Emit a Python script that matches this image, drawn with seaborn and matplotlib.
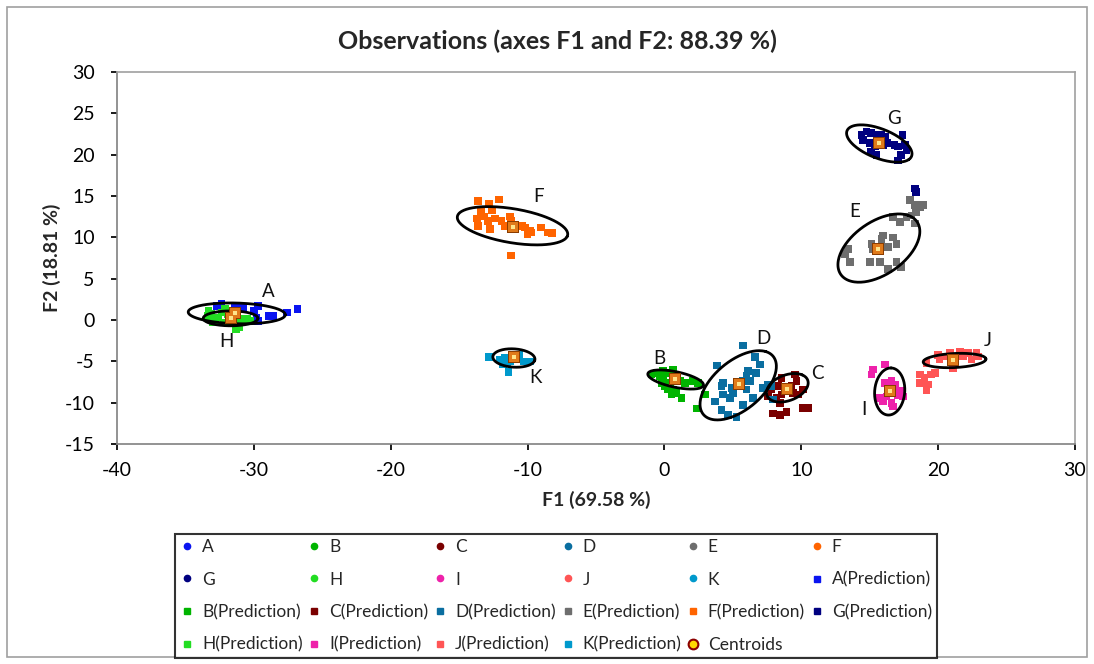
import numpy as np
import pandas as pd
import matplotlib
matplotlib.use("Agg")
import matplotlib.pyplot as plt
from matplotlib.lines import Line2D
from matplotlib.patches import Rectangle
import seaborn as sns

# ---------------- data ----------------
groups = ["A", "B", "C", "D", "E", "F", "G", "H", "I", "J", "K"]
colors = ["#0a14f0", "#00b400", "#7a0000", "#0a6ea0", "#6e6e6e", "#ff6400",
          "#000080", "#22dd22", "#ee22aa", "#ff5555", "#0099cc"]

A_x = [-32.7, -32.35, -31.4, -30.0, -29.7, -29.8, -29.7, -28.9, -28.6, -27.6, -26.8, -30.5, -30.8]
A_y = [1.7, 1.9, 1.5, 1.1, 1.7, 0.3, -0.1, 0.5, 0.5, 0.9, 1.3, 0.1, 1.5]
B_x = [-0.94, -0.58, -0.1, 0.64, -0.34, -0.1, 0.15, -0.2, 0.03, 0.4, 0.27, 0.52, 0.64, 0.88, 1.25, 1.12, 1.49, 2.1, 2.46, 2.95, 2.39]
B_y = [-6.6, -6.4, -6.2, -6.0, -6.8, -7.2, -6.4, -7.6, -8.0, -7.6, -8.4, -9.0, -8.4, -8.8, -9.4, -7.4, -7.6, -7.4, -7.6, -9.0, -10.7]
C_x = [8.55, 9.53, 9.65, 9.28, 8.92, 8.3, 7.82, 7.57, 8.19, 8.55, 9.77, 10.13, 8.43, 7.94, 8.43, 8.92, 10.13, 10.5, 9.4]
C_y = [-7.0, -6.6, -7.4, -8.0, -8.4, -8.0, -8.4, -9.25, -9.45, -9.0, -9.0, -8.4, -10.05, -11.3, -11.5, -11.1, -10.65, -10.65, -8.8]
D_x = [5.75, 6.6, 6.97, 3.85, 6.1, 6.7, 6.0, 5.75, 6.24, 4.29, 4.17, 4.9, 5.0, 6.0, 4.29, 4.78, 3.68, 5.75, 6.48, 7.2, 7.57, 4.17, 4.65, 5.27, 7.94, 7.82]
D_y = [-3.1, -4.45, -5.4, -5.5, -6.2, -6.4, -6.7, -7.4, -7.4, -7.6, -8.0, -8.2, -8.8, -8.4, -9.0, -9.4, -9.85, -10.25, -9.4, -8.2, -7.8, -10.9, -11.5, -11.7, -9.6, -8.0]
E_x = [17.93, 18.3, 18.66, 18.9, 18.4, 18.05, 17.7, 17.2, 16.7, 18.3, 15.98, 16.7, 16.95, 15.86, 15.13, 15.25, 16.34, 13.42, 13.18, 13.54, 15.0, 15.73, 16.34, 16.95, 17.3]
E_y = [14.5, 13.9, 13.7, 13.9, 13.1, 12.65, 12.45, 11.85, 12.45, 11.65, 10.2, 10.0, 9.2, 9.8, 9.2, 8.6, 8.8, 8.6, 8.0, 7.0, 7.0, 7.0, 6.2, 7.0, 6.4]
F_x = [-13.6, -12.8, -12.1, -13.4, -12.6, -13.7, -13.2, -12.9, -12.4, -12.75, -13.6, -11.9, -11.7, -11.3, -11.2, -10.4, -10.2, -9.8, -9.7, -9.0, -8.5, -8.2, -10.0, -11.2]
F_y = [14.4, 14.1, 14.6, 13.1, 13.3, 12.3, 12.5, 12.0, 12.3, 11.0, 11.4, 12.0, 11.4, 12.5, 12.0, 11.4, 11.2, 10.8, 10.6, 11.2, 10.6, 10.5, 10.4, 7.8]
G_x = [14.4, 14.76, 15.1, 15.5, 15.86, 16.1, 15.7, 15.98, 15.37, 15.0, 15.1, 15.5, 16.3, 16.8, 17.07, 17.4, 17.56, 17.7, 17.3, 17.07, 14.5, 18.3, 18.4]
G_y = [22.4, 22.8, 22.6, 22.4, 22.4, 22.2, 21.6, 21.2, 21.0, 21.4, 20.4, 19.95, 21.4, 21.2, 21.0, 22.4, 21.2, 20.6, 19.95, 19.3, 21.8, 15.9, 15.5]
H_x = [-33.3, -33.1, -33.2, -32.8, -32.6, -32.35, -32.1, -31.9, -31.1, -30.9, -31.1, -30.5, -30.3, -33.4, -33.0, -31.6, -32.2, -31.3]
H_y = [1.1, 0.7, 0.1, -0.1, 0.3, 0.9, 1.3, 0.7, 0.1, -0.3, -0.9, 0.1, -0.1, 0.5, -0.3, -0.3, -0.3, -1.1]
I_x = [15.25, 15.13, 16.1, 16.1, 16.6, 16.83, 16.34, 17.2, 17.44, 15.73, 15.98, 16.6, 16.7, 17.07, 16.22]
I_y = [-6.0, -6.6, -5.4, -7.6, -7.4, -7.8, -8.4, -8.6, -9.25, -9.45, -9.85, -10.05, -10.45, -9.05, -9.25]
J_x = [19.15, 20.0, 20.1, 20.5, 20.85, 21.58, 21.8, 22.2, 22.43, 22.8, 22.9, 21.1, 18.66, 19.0, 19.5, 19.75, 18.66, 19.27, 19.15]
J_y = [-5.2, -4.2, -4.8, -4.4, -4.0, -3.8, -4.4, -4.0, -4.8, -4.0, -4.4, -5.8, -6.6, -7.0, -6.6, -6.4, -7.6, -7.8, -8.5]
K_x = [-12.8, -12.0, -11.7, -11.5, -11.4, -9.8, -11.8, -10.6, -10.3, -11.3]
K_y = [-4.5, -4.8, -4.6, -5.2, -6.3, -5.0, -5.4, -4.2, -5.0, -5.0]

# centroids
cent_x = [-31.4, 0.76, 8.92, 5.46, 15.6, -11.05, 15.7, -31.7, 16.46, 21.1, -11.0]
cent_y = [0.8, -7.1, -8.35, -7.8, 8.6, 11.3, 21.4, 0.2, -8.6, -4.85, -4.5]

# confidence ellipses (center, semi-axes, angle in degrees)
ell_cx = [-31.25, 0.82, 8.98, 5.39, 15.67, -11.1, 15.7, -31.7, 16.46, 21.2, -11.0]
ell_cy = [0.8, -7.2, -8.2, -7.9, 8.7, 11.4, 21.35, 0.2, -8.65, -4.9, -4.6]
ell_a = [3.55, 2.16, 1.9, 4.55, 4.5, 4.2, 2.9, 2.0, 2.85, 2.3, 1.55]
ell_b = [1.25, 0.9, 1.3, 2.15, 2.4, 2.0, 1.55, 0.9, 1.1, 0.85, 1.1]
ell_ang = [-3, -21.7, 55, 63.7, 62, -18.4, -42, 0, 88, 5, -10]

# label positions
lab_x = [-28.95, -0.4, 11.2, 7.2, 13.9, -9.2, 16.75, -32.0, 14.6, 23.6, -9.4]
lab_y = [3.5, -4.65, -6.5, -2.2, 13.1, 15.0, 24.4, -2.6, -10.85, -2.45, -7.0]

xticks = [-40, -30, -20, -10, 0, 10, 20, 30]
yticks = [-15, -10, -5, 0, 5, 10, 15, 20, 25, 30]

title = "Observations (axes F1 and F2: 88.39 %)"
xlabel = "F1 (69.58 %)"
ylabel = "F2 (18.81 %)"

# ---------------- build table ----------------
xs = {"A": A_x, "B": B_x, "C": C_x, "D": D_x, "E": E_x, "F": F_x, "G": G_x,
      "H": H_x, "I": I_x, "J": J_x, "K": K_x}
ys = {"A": A_y, "B": B_y, "C": C_y, "D": D_y, "E": E_y, "F": F_y, "G": G_y,
      "H": H_y, "I": I_y, "J": J_y, "K": K_y}
rows = []
for g in groups:
    for x, y in zip(xs[g], ys[g]):
        rows.append((g, x, y))
df = pd.DataFrame(rows, columns=["group", "F1", "F2"])
cent = pd.DataFrame({"group": groups, "F1": cent_x, "F2": cent_y})
pal = dict(zip(groups, colors))

# ---------------- plot ----------------
sns.set_theme(style="white")
plt.rcParams["font.family"] = ["Lato", "DejaVu Sans"]
plt.rcParams["axes.unicode_minus"] = False

fig = plt.figure(figsize=(10.94, 6.64), dpi=100)
ax = fig.add_axes([117 / 1094, 1 - 444 / 664, (1075 - 117) / 1094, (444 - 72) / 664])

sns.scatterplot(data=df, x="F1", y="F2", hue="group", palette=pal, marker="s",
                s=30, linewidth=0, legend=False, ax=ax, zorder=3)

t = np.linspace(0, 2 * np.pi, 200)
for cx, cy, a, b, ang in zip(ell_cx, ell_cy, ell_a, ell_b, ell_ang):
    th = np.deg2rad(ang)
    ex = cx + a * np.cos(t) * np.cos(th) - b * np.sin(t) * np.sin(th)
    ey = cy + a * np.cos(t) * np.sin(th) + b * np.sin(t) * np.cos(th)
    ax.plot(ex, ey, color="black", lw=2, zorder=4)

sns.scatterplot(data=cent, x="F1", y="F2", marker="s", s=80, color="#8a3c00",
                linewidth=0, legend=False, ax=ax, zorder=5)
sns.scatterplot(data=cent, x="F1", y="F2", marker="s", s=45, color="#e07a1a",
                linewidth=0, legend=False, ax=ax, zorder=6)
sns.scatterplot(data=cent, x="F1", y="F2", marker="s", s=10, color="#ffe58a",
                linewidth=0, legend=False, ax=ax, zorder=7)

for g, lx, ly in zip(groups, lab_x, lab_y):
    ax.text(lx, ly, g, fontsize=13.5, ha="center", va="center", color="#111111", zorder=8)

ax.set_xlim(-40, 30)
ax.set_ylim(-15, 30)
ax.set_xticks(xticks)
ax.set_yticks(yticks)
ax.tick_params(axis="both", labelsize=14, colors="#000000", length=4, direction="out",
               bottom=True, left=True)
ax.tick_params(axis="x", pad=9)
ax.tick_params(axis="y", pad=12)
for side in ["top", "right"]:
    ax.spines[side].set_color("#a0a0a0")
    ax.spines[side].set_linewidth(1.2)
for side in ["left", "bottom"]:
    ax.spines[side].set_color("#808080")
    ax.spines[side].set_linewidth(1.2)
ax.set_xlabel(xlabel, fontsize=14, fontweight="bold")
ax.set_ylabel(ylabel, fontsize=14, fontweight="bold")
ax.xaxis.set_label_coords(0.5, -0.127)
ax.yaxis.set_label_coords(-0.058, 0.5)

fig.text(557 / 1094, 1 - 41 / 664, title, fontsize=18, fontweight="bold",
         ha="center", va="center")

# legend
labels, handles = [], []
for g, c in zip(groups, colors):
    labels.append(g)
    handles.append(Line2D([], [], marker="o", ls="", color=c, markersize=4.5))
for g, c in zip(groups, colors):
    labels.append(g + "(Prediction)")
    handles.append(Line2D([], [], marker="s", ls="", color=c, markersize=5))
labels.append("Centroids")
handles.append(Line2D([], [], marker="o", ls="", markerfacecolor="#ffd700",
                      markeredgecolor="#8b0000", markeredgewidth=1.5, markersize=7))
ncol = 6
n = len(labels)
order = []
for c in range(ncol):
    for r in range(4):
        i = r * ncol + c
        if i < n:
            order.append(i)
leg = fig.legend([handles[i] for i in order], [labels[i] for i in order],
                 ncol=ncol, loc="lower left",
                 bbox_to_anchor=(175 / 1094, 1 - 658 / 664, (937 - 175) / 1094, (658 - 532) / 664),
                 mode="expand", fontsize=12.5, frameon=True, fancybox=False,
                 edgecolor="black", handlelength=0.8, handletextpad=0.45,
                 labelspacing=0.95, borderpad=0.3, borderaxespad=0)
leg.get_frame().set_linewidth(1.5)

fig.patches.append(Rectangle((7 / 1094, 7 / 664), 1080 / 1094, 650 / 664,
                             transform=fig.transFigure, fill=False,
                             edgecolor="#a0a0a0", lw=1.2))

fig.savefig("out.png", dpi=100)
